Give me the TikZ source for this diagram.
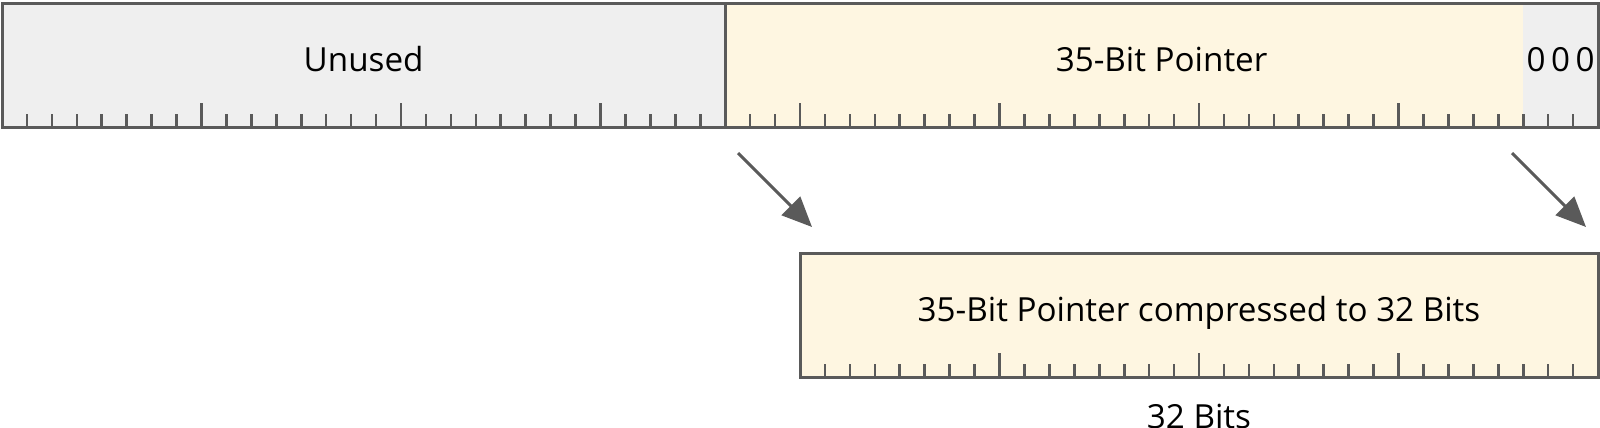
\documentclass[tikz,border=0pt]{standalone}
\usepackage{fontspec}
\setmainfont{Open Sans}
\usetikzlibrary{arrows.meta}
\definecolor{graybg}{HTML}{EFEFEF}
\definecolor{yellowbg}{HTML}{FEF6E1}
\definecolor{linec}{HTML}{5A5A5A}
\begin{document}
\begin{tikzpicture}[x=0.5pt,y=-0.5pt,
  frame/.style={draw=linec, line width=1.5pt},
  tickmark/.style={draw=linec, line width=1.3pt},
  lbl/.style={font=\fontsize{16.6}{20}\selectfont, text=black, inner sep=0pt, anchor=base},
  arr/.style={draw=linec, line width=1.5pt, -{Triangle[length=15pt,width=13pt]}}]
\useasboundingbox (0,0) rectangle (1600,428);
\def\b{24.9375}
% top register
\fill[graybg] (2,3) rectangle ({2+29*\b},127);
\fill[yellowbg] ({2+29*\b},3) rectangle ({2+61*\b},127);
\fill[graybg] ({2+61*\b},3) rectangle (1598,127);
\foreach \k in {1,...,63} {
  \ifnum\k=29\else
    \pgfmathsetmacro\tl{mod(\k,8)==0 ? 24 : 13}
    \draw[tickmark] ({2+\k*\b},127) -- ++(0,-\tl);
  \fi
}
\draw[frame] (2,3) rectangle (1598,127);
\draw[frame] ({2+29*\b},3) -- ({2+29*\b},127);
\node[lbl] (unused) at ({2+14.5*\b},71) {Unused};
\node[lbl] (pointer) at ({2+46.5*\b},71) {35-Bit Pointer};
\node[lbl] (zeros) at ({2+62.5*\b},71) {0\hspace{2.8pt}0\hspace{2.8pt}0};
% bottom register
\fill[yellowbg] (800,253) rectangle (1598,377);
\foreach \k in {1,...,31} {
  \pgfmathsetmacro\tl{mod(\k,8)==0 ? 24 : 13}
  \draw[tickmark] ({800+\k*\b},377) -- ++(0,-\tl);
}
\draw[frame] (800,253) rectangle (1598,377);
\node[lbl] (compressed) at (1199,321) {35-Bit Pointer compressed to 32 Bits};
\node[lbl] (bits) at (1199,428.7) {32 Bits};
% arrows
\coordinate (a1s) at (738,153);
\coordinate (a1e) at (812,227);
\coordinate (a2s) at (1512,153);
\coordinate (a2e) at (1586,227);
\draw[arr] (a1s) -- (a1e);
\draw[arr] (a2s) -- (a2e);
\end{tikzpicture}
\end{document}
